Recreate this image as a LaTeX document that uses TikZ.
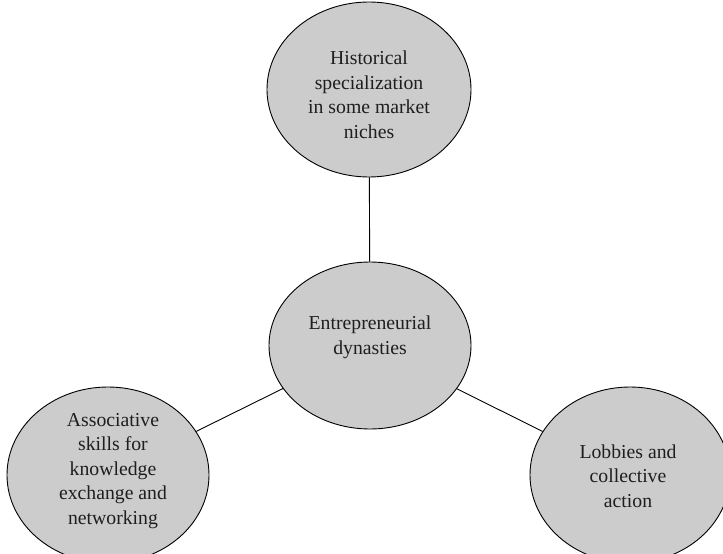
\documentclass[tikz,border=0pt]{standalone}
\usepackage{fontspec}
\setmainfont{Liberation Serif}
\usetikzlibrary{shapes.geometric}
\definecolor{bubble}{RGB}{204,204,204}
\definecolor{ink}{RGB}{30,30,30}
\tikzset{
  bubble/.style={ellipse, draw=black, line width=0.9bp, fill=bubble, inner sep=0pt},
  label/.style={align=center, text=ink, font=\fontsize{19.8}{24.6}\selectfont, inner sep=0pt},
  link/.style={draw=black, line width=0.9bp}
}
\begin{document}
\begin{tikzpicture}[x=1bp,y=-1bp]
\useasboundingbox (0,0) rectangle (723,554);
\node[bubble, minimum width=204bp, minimum height=175bp] (top) at (369,89.5) {};
\node[bubble, minimum width=202bp, minimum height=167bp] (mid) at (370,345.5) {};
\node[bubble, minimum width=202bp, minimum height=176bp] (left) at (108,475) {};
\node[bubble, minimum width=200bp, minimum height=176bp] (right) at (630,475) {};
\draw[link] (top) -- (mid);
\draw[link] (mid) -- (left);
\draw[link] (mid) -- (right);
\node[label] (toptext) at (369,95) {Historical\\specialization\\in some market\\niches};
\node[label] (midtext) at (370,337.5) {Entrepreneurial\\dynasties};
\node[label] (lefttext) at (113,471) {Associative\\skills for\\knowledge\\exchange and\\networking};
\node[label] (righttext) at (628,476) {Lobbies and\\collective\\action};
\end{tikzpicture}
\end{document}
